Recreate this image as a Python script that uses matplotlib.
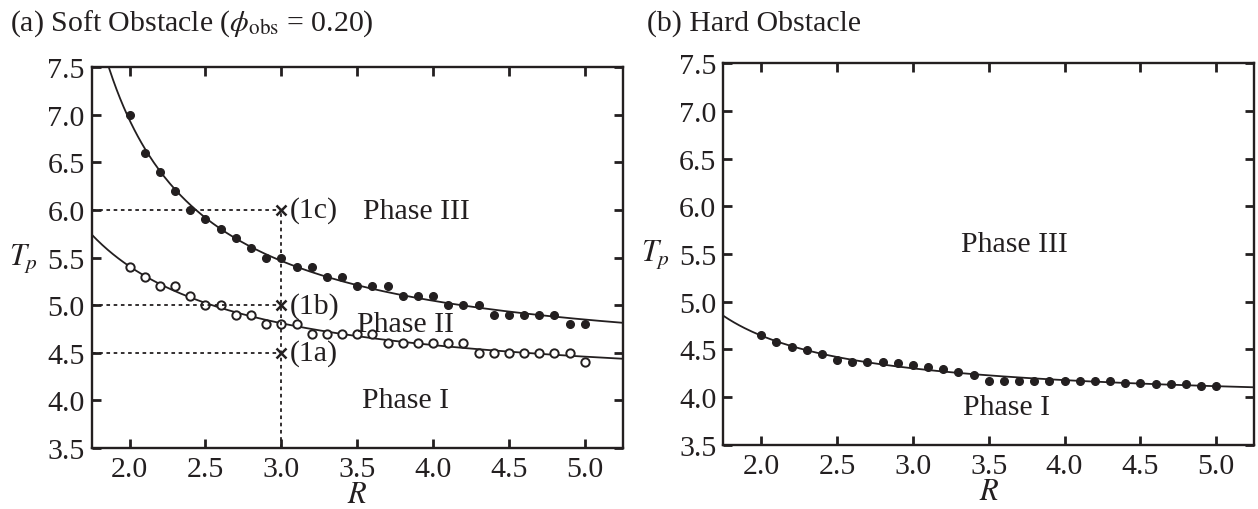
import numpy as np
import matplotlib
matplotlib.use('Agg')
import matplotlib.pyplot as plt

plt.rcParams['font.family'] = ['Liberation Serif', 'DejaVu Serif']
plt.rcParams['mathtext.fontset'] = 'stix'
plt.rcParams['font.size'] = 21.5

# panel (a): soft obstacle
R_soft = np.round(np.arange(2.0, 5.01, 0.1), 1)
T_upper = [7.0, 6.6, 6.4, 6.2, 6.0, 5.9, 5.8, 5.7, 5.6, 5.5, 5.5,
           5.4, 5.4, 5.3, 5.3, 5.2, 5.2, 5.2, 5.1, 5.1, 5.1,
           5.0, 5.0, 5.0, 4.9, 4.9, 4.9, 4.9, 4.9, 4.8, 4.8]
T_lower = [5.4, 5.3, 5.2, 5.2, 5.1, 5.0, 5.0, 4.9, 4.9, 4.8, 4.8,
           4.8, 4.7, 4.7, 4.7, 4.7, 4.7, 4.6, 4.6, 4.6, 4.6,
           4.6, 4.6, 4.5, 4.5, 4.5, 4.5, 4.5, 4.5, 4.5, 4.4]
probe_R = 3.0
probe_T = [4.5, 5.0, 6.0]
probe_labels = ['(1a)', '(1b)', '(1c)']

# panel (b): hard obstacle
R_hard = np.round(np.arange(2.0, 5.01, 0.1), 1)
T_hard = [4.65, 4.58, 4.53, 4.49, 4.45, 4.39, 4.37, 4.37, 4.37, 4.36, 4.34,
          4.32, 4.29, 4.26, 4.23, 4.17, 4.17, 4.17, 4.17, 4.17, 4.17,
          4.17, 4.17, 4.17, 4.15, 4.15, 4.14, 4.14, 4.14, 4.12, 4.12]

xlim = (1.75, 5.25)
ylim = (3.5, 7.5)
xticks = [2.0, 2.5, 3.0, 3.5, 4.0, 4.5, 5.0]
yticks = [3.5, 4.0, 4.5, 5.0, 5.5, 6.0, 6.5, 7.0, 7.5]
k = '#231f20'


def fit_curve(r, t, rr):
    # least squares fit T = a + b / (R - c), scanning c
    r = np.asarray(r, float)
    t = np.asarray(t, float)
    best = None
    for c in np.linspace(0.0, 1.7, 341):
        A = np.column_stack([np.ones_like(r), 1.0 / (r - c)])
        coef = np.linalg.lstsq(A, t, rcond=None)[0]
        err = np.sum((A @ coef - t) ** 2)
        if best is None or err < best[0]:
            best = (err, c, coef)
    _, c, (a, b) = best
    return a + b / (rr - c)


def style_axes(ax):
    ax.set_xlim(*xlim)
    ax.set_ylim(*ylim)
    ax.set_xticks(xticks)
    ax.set_yticks(yticks)
    ax.set_xticklabels([f'{v:.1f}' for v in xticks])
    ax.set_yticklabels([f'{v:.1f}' for v in yticks])
    ax.tick_params(direction='in', top=True, right=True, length=6.5, width=2,
                   labelsize=21.5, color=k, labelcolor=k)
    ax.tick_params(axis='x', pad=6)
    ax.tick_params(axis='y', pad=5)
    for s in ax.spines.values():
        s.set_linewidth(1.7)
        s.set_color(k)
    ax.set_xlabel('$R$', fontsize=22, labelpad=-1.5, color=k)
    ax.text(-0.156, 5.5, '$T_p$', transform=ax.get_yaxis_transform(),
            ha='left', va='center', fontsize=22, color=k)


fig = plt.figure(figsize=(12.58, 5.10), dpi=100)
ax1 = fig.add_axes([0.0729, 0.1196, 0.4221, 0.747])
ax2 = fig.add_axes([0.575, 0.126, 0.4219, 0.748])

rr = np.linspace(xlim[0], xlim[1], 300)

# (a)
ax1.plot(rr, fit_curve(R_soft, T_upper, rr), color=k, lw=1.3)
ax1.plot(rr, fit_curve(R_soft, T_lower, rr), color=k, lw=1.3)
ax1.plot(R_soft, T_upper, 'o', color=k, ms=5.5)
ax1.plot(R_soft, T_lower, 'o', mfc='white', mec=k, mew=1.4, ms=6)
ax1.hlines(probe_T, xlim[0], probe_R, colors=k, linestyles=(0, (2, 2)), lw=1.3)
ax1.vlines(probe_R, ylim[0], max(probe_T), colors=k, linestyles=(0, (2, 2)), lw=1.3)
ax1.plot([probe_R] * len(probe_T), probe_T, 'x', color=k, ms=7, mew=1.8)
for t, lab in zip(probe_T, probe_labels):
    ax1.annotate(lab, (probe_R, t), xytext=(6, 0), textcoords='offset points',
                 ha='left', va='center', fontsize=21.5, color=k)
ax1.text(3.89, 5.92, 'Phase III', ha='center', va='baseline', fontsize=21.5, color=k)
ax1.text(3.82, 4.73, 'Phase II', ha='center', va='baseline', fontsize=21.5, color=k)
ax1.text(3.82, 3.93, 'Phase I', ha='center', va='baseline', fontsize=21.5, color=k)
style_axes(ax1)

# (b)
ax2.plot(rr, fit_curve(R_hard, T_hard, rr), color=k, lw=1.3)
ax2.plot(R_hard, T_hard, 'o', color=k, ms=5.5)
ax2.text(3.67, 5.53, 'Phase III', ha='center', va='baseline', fontsize=21.5, color=k)
ax2.text(3.62, 3.82, 'Phase I', ha='center', va='baseline', fontsize=21.5, color=k)
style_axes(ax2)

fig.text(10 / 1258, 1 - 31 / 510, r'(a) Soft Obstacle ($\phi_{\mathrm{obs}}$ = 0.20)',
         ha='left', va='baseline', fontsize=21.5, color=k)
fig.text(647 / 1258, 1 - 31 / 510, '(b) Hard Obstacle',
         ha='left', va='baseline', fontsize=21.5, color=k)

fig.savefig('out.png', dpi=100)
